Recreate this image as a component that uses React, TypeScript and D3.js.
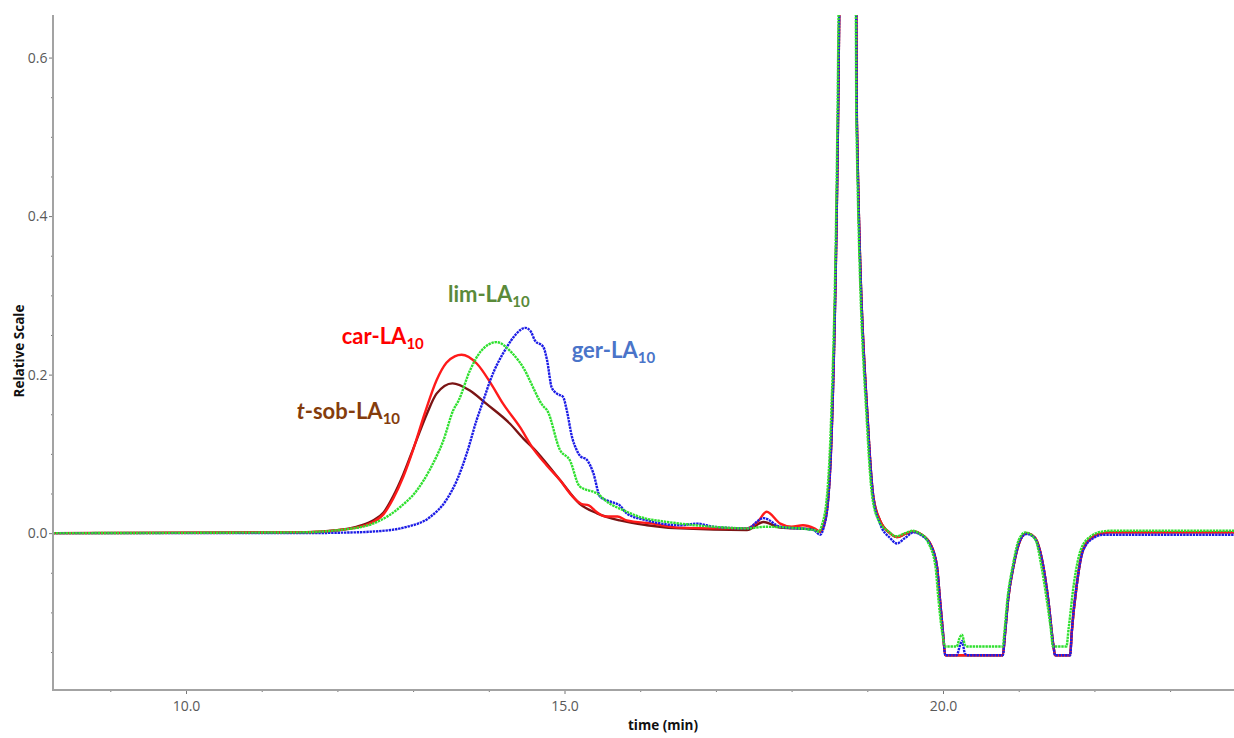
// Chromatogram overlay of four LA10 samples (relative scale vs retention time)
import React, { useEffect, useRef } from 'react';
import * as d3 from 'd3';

type Pt = [number, number];

// retention time (min), relative signal
const carLA: Pt[] = [
    [8.24, 0], [11.0, 0.0005], [11.6, 0.001], [12.03, 0.004], [12.25, 0.007], [12.45, 0.013],
    [12.61, 0.024], [12.74, 0.044], [12.87, 0.071], [13.0, 0.105], [13.15, 0.150], [13.31, 0.193],
    [13.44, 0.215], [13.55, 0.223], [13.64, 0.225], [13.84, 0.214], [14.02, 0.190], [14.19, 0.163],
    [14.41, 0.134], [14.59, 0.106], [14.76, 0.086], [14.94, 0.067], [15.1, 0.047], [15.22, 0.037],
    [15.32, 0.035], [15.42, 0.027], [15.55, 0.021], [15.7, 0.021], [15.82, 0.016], [16.17, 0.012],
    [16.5, 0.007], [17.0, 0.006], [17.4, 0.006], [17.55, 0.014], [17.67, 0.027], [17.85, 0.012],
    [18.0, 0.008], [18.15, 0.010], [18.3, 0.006], [18.375, 0.002], [18.42, 0.008], [18.485, 0.046],
    [18.53, 0.13], [18.613, 0.52], [18.64, 0.75], [18.745, 1.6], [18.85, 0.75], [18.862, 0.52],
    [19.013, 0.13], [19.079, 0.046], [19.168, 0.016], [19.30, 0.0], [19.39, -0.005], [19.5, -0.001],
    [19.61, 0.002], [19.72, -0.002], [19.785, -0.007], [19.83, -0.013], [19.92, -0.042], [19.96, -0.084],
    [20.0, -0.126], [20.03, -0.154], [20.79, -0.154], [20.82, -0.126], [20.86, -0.084], [20.93, -0.042],
    [21.02, -0.009], [21.1, 0.0], [21.17, -0.002], [21.24, -0.010], [21.325, -0.042], [21.39, -0.084],
    [21.46, -0.143], [21.48, -0.154], [21.68, -0.154], [21.70, -0.126], [21.77, -0.063], [21.85, -0.021],
    [21.99, -0.004], [22.12, 0.0], [22.2, 0.001], [23.85, 0.001]
];

const tsobLA: Pt[] = [
    [8.24, 0], [11.5, 0.001], [12.03, 0.004], [12.25, 0.008], [12.45, 0.015], [12.61, 0.026],
    [12.74, 0.047], [12.87, 0.074], [13.0, 0.106], [13.18, 0.150], [13.31, 0.176], [13.52, 0.189],
    [13.75, 0.180], [13.97, 0.163], [14.28, 0.138], [14.46, 0.119], [14.59, 0.107], [14.94, 0.067],
    [15.2, 0.037], [15.43, 0.025], [15.73, 0.016], [16.09, 0.010], [16.53, 0.006], [17.41, 0.004],
    [17.63, 0.014], [17.85, 0.007], [18.29, 0.005], [18.375, 0.002], [18.42, 0.008], [18.485, 0.046],
    [18.53, 0.13], [18.613, 0.52], [18.64, 0.75], [18.745, 1.6], [18.85, 0.75], [18.862, 0.52],
    [19.013, 0.13], [19.079, 0.046], [19.168, 0.016], [19.30, 0.0], [19.39, -0.005], [19.5, -0.001],
    [19.61, 0.002], [19.72, -0.002], [19.785, -0.007], [19.83, -0.013], [19.92, -0.042], [19.96, -0.084],
    [20.0, -0.126], [20.03, -0.154], [20.79, -0.154], [20.82, -0.126], [20.86, -0.084], [20.93, -0.042],
    [21.02, -0.009], [21.1, 0.0], [21.17, -0.002], [21.24, -0.010], [21.325, -0.042], [21.39, -0.084],
    [21.46, -0.143], [21.48, -0.154], [21.68, -0.154], [21.70, -0.126], [21.77, -0.063], [21.85, -0.021],
    [21.99, -0.004], [22.12, 0.0], [22.2, 0.001], [23.85, 0.001]
];

const gerLA: Pt[] = [
    [8.24, 0], [11.5, 0], [12.0, 0.0005], [12.47, 0.002], [12.92, 0.008], [13.22, 0.020],
    [13.44, 0.042], [13.58, 0.067], [13.71, 0.101], [13.84, 0.143], [13.93, 0.168], [14.02, 0.193],
    [14.24, 0.235], [14.35, 0.250], [14.48, 0.259], [14.55, 0.255], [14.61, 0.243], [14.72, 0.235],
    [14.77, 0.218], [14.83, 0.184], [14.9, 0.176], [14.98, 0.172], [15.03, 0.155], [15.1, 0.121],
    [15.16, 0.105], [15.21, 0.097], [15.29, 0.093], [15.38, 0.076], [15.47, 0.046], [15.6, 0.040],
    [15.73, 0.035], [15.82, 0.025], [16.09, 0.016], [16.53, 0.010], [16.75, 0.012], [16.97, 0.008],
    [17.41, 0.006], [17.63, 0.019], [17.85, 0.008], [18.29, 0.004], [18.375, -0.002], [18.42, 0.006],
    [18.485, 0.044], [18.53, 0.128], [18.613, 0.52], [18.64, 0.75], [18.745, 1.6], [18.85, 0.75],
    [18.862, 0.52], [19.013, 0.13], [19.079, 0.046], [19.168, 0.012], [19.30, -0.006], [19.39, -0.013],
    [19.5, -0.006], [19.61, 0.001], [19.72, -0.003], [19.785, -0.008], [19.83, -0.014], [19.92, -0.042],
    [19.96, -0.084], [20.0, -0.126], [20.03, -0.154], [20.18, -0.154], [20.23, -0.140], [20.25, -0.136],
    [20.29, -0.152], [20.32, -0.154], [20.79, -0.154], [20.82, -0.126], [20.86, -0.084], [20.93, -0.042],
    [21.02, -0.009], [21.1, -0.001], [21.17, -0.003], [21.24, -0.011], [21.325, -0.042], [21.39, -0.084],
    [21.46, -0.143], [21.48, -0.154], [21.68, -0.154], [21.70, -0.126], [21.77, -0.063], [21.85, -0.022],
    [21.99, -0.006], [22.12, -0.002], [22.2, -0.002], [23.85, -0.002]
];

const limLA: Pt[] = [
    [8.24, 0], [11.5, 0.001], [12.03, 0.004], [12.47, 0.012], [12.83, 0.033], [13.05, 0.054],
    [13.22, 0.080], [13.4, 0.117], [13.53, 0.155], [13.6, 0.167], [13.75, 0.205], [13.9, 0.230],
    [14.1, 0.241], [14.3, 0.228], [14.5, 0.201], [14.54, 0.193], [14.72, 0.160], [14.77, 0.155],
    [14.94, 0.105], [15.07, 0.092], [15.2, 0.059], [15.43, 0.050], [15.6, 0.037], [15.73, 0.031],
    [16.09, 0.018], [16.22, 0.016], [16.53, 0.012], [16.97, 0.008], [17.41, 0.006], [17.65, 0.008],
    [18.29, 0.004], [18.36, 0.002], [18.40, 0.010], [18.47, 0.050], [18.52, 0.14], [18.605, 0.52],
    [18.63, 0.75], [18.74, 1.6], [18.845, 0.75], [18.855, 0.52], [19.0, 0.13], [19.065, 0.046],
    [19.15, 0.016], [19.28, 0.002], [19.38, -0.004], [19.5, 0.0], [19.6, 0.003], [19.7, -0.001],
    [19.77, -0.006], [19.81, -0.013], [19.9, -0.042], [19.94, -0.084], [19.99, -0.126], [20.03, -0.143],
    [20.18, -0.143], [20.22, -0.132], [20.25, -0.128], [20.29, -0.141], [20.32, -0.143], [20.79, -0.143],
    [20.81, -0.126], [20.85, -0.084], [20.92, -0.042], [21.0, -0.009], [21.09, 0.001], [21.22, -0.008],
    [21.3, -0.042], [21.37, -0.084], [21.43, -0.126], [21.45, -0.143], [21.63, -0.143], [21.66, -0.120],
    [21.73, -0.063], [21.82, -0.021], [21.95, -0.004], [22.1, 0.002], [22.2, 0.003], [23.85, 0.003]
];

const seriesNames = ['t-sob-LA', 'car-LA', 'ger-LA', 'lim-LA'];
const timeMajorTicks = [10, 15, 20];
const timeMinorTicks = [9, 11, 12, 13, 14, 16, 17, 18, 19, 21, 22, 23];
const valueMajorTicks = [0, 0.2, 0.4, 0.6];
const valueMinorTicks = [-0.15, -0.1, -0.05, 0.05, 0.1, 0.15, 0.25, 0.3, 0.35, 0.45, 0.5, 0.55];

const App = () => {
    const chartRef = useRef<SVGSVGElement>(null);

    useEffect(() => {
        if (!chartRef.current) return;
        const root = d3.select(chartRef.current);
        root.selectAll('*').remove();

        const W = 1234, H = 738;
        const plot = { left: 53, right: 1234, top: 15, bottom: 690 };
        const axisColor = '#a3a3a3';
        const font = "'Open Sans', 'DejaVu Sans', sans-serif";

        const x = d3.scaleLinear().domain([8.243, 23.844]).range([plot.left, plot.right]);
        const y = d3.scaleLinear().domain([-0.1979, 0.6537]).range([plot.bottom, plot.top]);

        root.append('rect').attr('width', W).attr('height', H).attr('fill', '#fff');

        root.append('defs').append('clipPath').attr('id', 'plot-clip')
            .append('rect')
            .attr('x', plot.left).attr('y', plot.top)
            .attr('width', plot.right - plot.left).attr('height', plot.bottom - plot.top);

        // Curves (bottom layer first)
        const seriesData = [tsobLA, carLA, gerLA, limLA];
        const seriesColors = ['#7a1414', '#ff1a1a', '#1c1ce6', '#2fe02f'];
        const line = d3.line<Pt>()
            .x(d => x(d[0]))
            .y(d => y(d[1]))
            .curve(d3.curveMonotoneX);

        const curves = root.append('g').attr('clip-path', 'url(#plot-clip)');
        seriesData.forEach((data, i) => {
            curves.append('path')
                .datum(data)
                .attr('fill', 'none')
                .attr('stroke', seriesColors[i])
                .attr('stroke-width', 2.4)
                .attr('stroke-dasharray', i >= 2 ? '2.4,0.8' : null)
                .attr('stroke-linejoin', 'round')
                .attr('d', line);
        });

        // Y axis
        const yMinor = root.append('g')
            .attr('transform', `translate(${plot.left},0)`)
            .call(d3.axisLeft(y).tickValues(valueMinorTicks).tickSize(2).tickSizeOuter(0).tickFormat(() => ''));
        yMinor.select('.domain').remove();
        yMinor.selectAll('line').attr('stroke', '#777');

        const yMajor = root.append('g')
            .attr('transform', `translate(${plot.left},0)`)
            .call(d3.axisLeft(y).tickValues(valueMajorTicks).tickSize(4).tickPadding(1.5)
                .tickSizeOuter(0).tickFormat(d3.format('.1f')));
        yMajor.select('.domain').remove();
        yMajor.selectAll('line').attr('stroke', '#777');
        yMajor.selectAll('text')
            .attr('fill', '#595959')
            .attr('font-size', 14)
            .attr('font-family', font);

        // X axis
        const xMinor = root.append('g')
            .attr('transform', `translate(0,${plot.bottom})`)
            .call(d3.axisBottom(x).tickValues(timeMinorTicks).tickSize(2).tickSizeOuter(0).tickFormat(() => ''));
        xMinor.select('.domain').remove();
        xMinor.selectAll('line').attr('stroke', '#777');

        const xMajor = root.append('g')
            .attr('transform', `translate(0,${plot.bottom})`)
            .call(d3.axisBottom(x).tickValues(timeMajorTicks).tickSize(4).tickPadding(7.5)
                .tickSizeOuter(0).tickFormat(d3.format('.1f')));
        xMajor.select('.domain').remove();
        xMajor.selectAll('line').attr('stroke', '#777');
        xMajor.selectAll('text')
            .attr('fill', '#595959')
            .attr('font-size', 14)
            .attr('font-family', font);

        // Axis lines
        root.append('line')
            .attr('x1', plot.left).attr('x2', plot.left)
            .attr('y1', plot.top).attr('y2', plot.bottom + 1)
            .attr('stroke', axisColor).attr('stroke-width', 2);
        root.append('line')
            .attr('x1', plot.left - 1).attr('x2', plot.right)
            .attr('y1', plot.bottom).attr('y2', plot.bottom)
            .attr('stroke', axisColor).attr('stroke-width', 2);

        // Axis titles
        root.append('text')
            .attr('transform', `translate(24,351) rotate(-90)`)
            .attr('text-anchor', 'middle')
            .attr('font-family', font)
            .attr('font-weight', 'bold')
            .attr('font-size', 13.5)
            .attr('fill', '#111')
            .text('Relative Scale');

        root.append('text')
            .attr('x', 663)
            .attr('y', 730)
            .attr('text-anchor', 'middle')
            .attr('font-family', font)
            .attr('font-weight', 'bold')
            .attr('font-size', 13.5)
            .attr('fill', '#111')
            .text('time (min)');

        // Curve labels, anchored in data coordinates
        const labelAnchors: [number, number][] = [[11.462, 0.1446], [12.057, 0.239], [15.095, 0.2214], [13.46, 0.2915]];
        const labelColors = ['#843c0c', '#ff0000', '#4a74c9', '#5a8a3a'];
        const labelFont = "Lato, 'Open Sans', sans-serif";

        seriesNames.forEach((name, i) => {
            const t = root.append('text')
                .attr('x', x(labelAnchors[i][0]))
                .attr('y', y(labelAnchors[i][1]))
                .attr('font-family', labelFont)
                .attr('font-weight', 'bold')
                .attr('font-size', 22)
                .attr('fill', labelColors[i]);
            if (name.startsWith('t-')) {
                t.append('tspan').attr('font-style', 'italic').text('t');
                t.append('tspan').text(name.slice(1));
            } else {
                t.append('tspan').text(name);
            }
            t.append('tspan')
                .attr('font-size', 15)
                .attr('dy', 5)
                .text('10');
        });
    }, []);

    return (
        <svg
            ref={chartRef}
            width={1234}
            height={738}
            style={{ position: 'absolute', left: 0, top: 0, display: 'block' }}
        />
    );
};

export default App;
